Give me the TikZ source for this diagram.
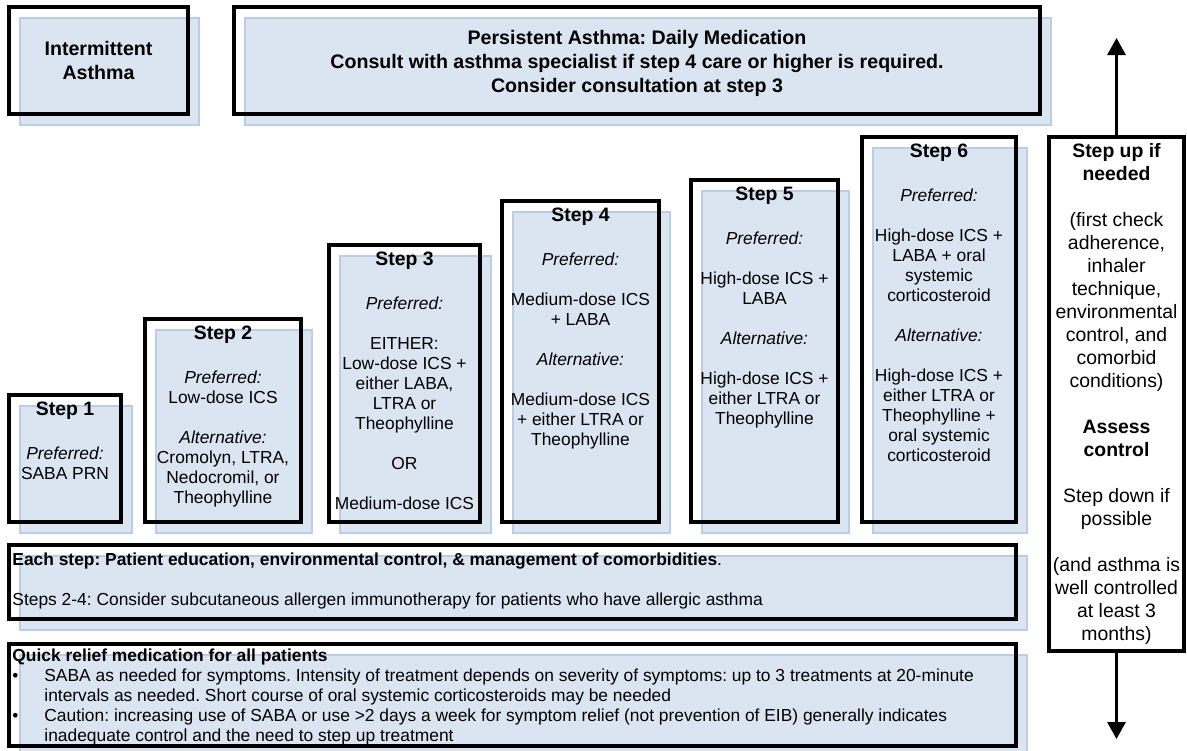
\documentclass[tikz,border=0pt]{standalone}
\usepackage{fontspec}
\setmainfont{Liberation Sans}
\usepackage{xcolor}
\usetikzlibrary{arrows.meta,positioning,fit,shadows}

\definecolor{boxblue}{RGB}{219,228,241}
\definecolor{edgeblue}{RGB}{186,205,229}
\newcommand{\steptitle}[1]{{\bfseries\fontsize{9.7}{11}\selectfont #1}}
\frenchspacing

\begin{document}
\begin{tikzpicture}[
  x=0.5pt, y=-0.5pt,
  font=\fontsize{8.7}{10}\selectfont,
  % blue panel sits behind the black frame, shifted down-right
  frame/.style={draw=black, line width=2pt, inner sep=0pt,
    general shadow={fill=boxblue, draw=edgeblue, line width=1.3pt,
      shadow xshift=5.5pt, shadow yshift=-5.5pt}},
  plainframe/.style={draw=black, line width=2pt, inner sep=0pt},
  steptext/.style={align=center, inner sep=0pt},
  headtext/.style={align=center, inner sep=0pt, font=\bfseries\fontsize{9.8}{11.8}\selectfont},
  sidetext/.style={align=center, inner sep=0pt, font=\fontsize{9.7}{11.5}\selectfont},
  bodytext/.style={align=left, inner sep=0pt},
  arr/.style={line width=1.5pt, -{Triangle[width=9pt,length=8.5pt]}}
]
  \useasboundingbox (0,0) rectangle (1187,750);

  % header boxes
  \node[frame, fit={(9,7) (188,114)}] (int) {};
  \node[headtext] (inttext) at (int.center) {Intermittent\\ Asthma};
  \node[frame, fit={(234,7) (1040,114)}] (pers) {};
  \node[headtext, yshift=-1.5pt] (perstext) at (pers.center) {Persistent Asthma: Daily Medication\\
    Consult with asthma specialist if step 4 care or higher is required.\\
    Consider consultation at step 3};

  % staircase of steps
  \foreach \n/\l/\t/\r in {1/9/395/121, 2/145/319/301, 3/329/245/480,
                           4/502/201/659, 5/691/180/838, 6/862/137/1016}
    \node[frame, fit={(\l,\t) (\r,522)}] (s\n) {};

  \node[steptext, below=4.5pt of s1.north] (t1) {\steptitle{Step 1}\\[12pt]
    \textit{Preferred:}\\ SABA PRN};
  \node[steptext, below=4.5pt of s2.north] (t2) {\steptitle{Step 2}\\[12pt]
    \textit{Preferred:}\\ Low-dose ICS\\[10pt]
    \textit{Alternative:}\\ Cromolyn, LTRA,\\ Nedocromil, or\\ Theophylline};
  \node[steptext, below=4.5pt of s3.north] (t3) {\steptitle{Step 3}\\[12pt]
    \textit{Preferred:}\\[10pt] EITHER:\\ Low-dose ICS +\\ either LABA,\\ LTRA or\\ Theophylline\\[10pt]
    OR\\[10pt] Medium-dose ICS};
  \node[steptext, below=4.5pt of s4.north] (t4) {\steptitle{Step 4}\\[12pt]
    \textit{Preferred:}\\[10pt] Medium-dose ICS\\ + LABA\\[10pt]
    \textit{Alternative:}\\[10pt] Medium-dose ICS\\ + either LTRA or\\ Theophylline};
  \node[steptext, below=4.5pt of s5.north] (t5) {\steptitle{Step 5}\\[12pt]
    \textit{Preferred:}\\[10pt] High-dose ICS +\\ LABA\\[10pt]
    \textit{Alternative:}\\[10pt] High-dose ICS +\\ either LTRA or\\ Theophylline};
  \node[steptext, below=4.5pt of s6.north] (t6) {\steptitle{Step 6}\\[12pt]
    \textit{Preferred:}\\[10pt] High-dose ICS +\\ LABA + oral\\ systemic\\ corticosteroid\\[10pt]
    \textit{Alternative:}\\[10pt] High-dose ICS +\\ either LTRA or\\ Theophylline +\\ oral systemic\\ corticosteroid};

  % step up / step down column
  \node[plainframe, fit={(1049,137) (1184,651)}] (ctl) {};
  \node[sidetext, below=4pt of ctl.north] (ctltext) {\textbf{Step up if}\\ \textbf{needed}\\[11.5pt]
    (first check\\ adherence,\\ inhaler\\ technique,\\ environmental\\ control, and\\ comorbid\\ conditions)\\[11.5pt]
    \textbf{Assess}\\ \textbf{control}\\[11.5pt]
    Step down if\\ possible\\[11.5pt]
    (and asthma is\\ well controlled\\ at least 3\\ months)};
  \coordinate[above=48.5pt of ctl.north] (uptip);
  \coordinate[below=43pt of ctl.south] (downtip);
  \draw[arr] (ctl.north) -- (uptip);
  \draw[arr] (ctl.south) -- (downtip);

  % notes along the bottom
  \node[frame, fit={(9,545) (1016,619)}] (each) {};
  \node[bodytext, below right=4.5pt and 2.5pt of each.north west] (eachtext)
    {\textbf{Each step: Patient education, environmental control, \& management of comorbidities}.\\[10pt]
     Steps 2-4: Consider subcutaneous allergen immunotherapy for patients who have allergic asthma};
  \node[frame, fit={(9,644) (1016,746)}] (quick) {};
  \node[bodytext, below right=3pt and 2.5pt of quick.north west] (quicktext)
    {\textbf{Quick relief medication for all patients}\\
     \makebox[16pt][l]{\textbullet}SABA as needed for symptoms. Intensity of treatment depends on severity of symptoms: up to 3 treatments at 20-minute\\
     \hspace*{16pt}intervals as needed. Short course of oral systemic corticosteroids may be needed\\
     \makebox[16pt][l]{\textbullet}Caution: increasing use of SABA or use >2 days a week for symptom relief (not prevention of EIB) generally indicates\\
     \hspace*{16pt}inadequate control and the need to step up treatment};
\end{tikzpicture}
\end{document}
